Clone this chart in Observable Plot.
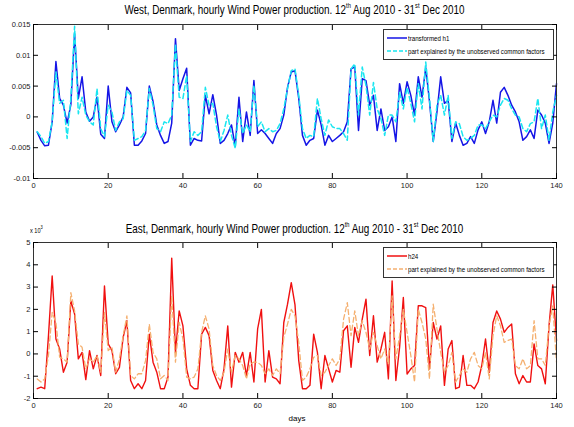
<!DOCTYPE html>
<html><head><meta charset="utf-8">
<script src="https://cdn.jsdelivr.net/npm/d3@7"></script>
<script src="https://cdn.jsdelivr.net/npm/@observablehq/plot@0.6"></script>
<style>
body{margin:0;background:#fff;}
#wrap{position:relative;width:574px;height:427px;font-family:"Liberation Sans",Arial,sans-serif;color:#000;overflow:hidden}
.svgbox{position:absolute;left:0}
.title{position:absolute;left:33px;width:523px;text-align:center;font-size:13px;white-space:nowrap;line-height:14px;transform:scaleX(0.76);transform-origin:center}
.title sup{font-size:7.5px;vertical-align:6px;line-height:0}
.legend{position:absolute;left:383px;width:169px;height:29px;border:1px solid #333;background:#fff;font-size:8px}
.legend .row{position:absolute;left:3px;height:10px;display:flex;align-items:center;white-space:nowrap}
.legend svg{margin-right:1px;flex:none}
.legend span{display:inline-block;transform:scaleX(0.77);transform-origin:left center}
.exp{position:absolute;left:30px;top:227px;font-size:7px;transform:scaleX(0.8);transform-origin:left}
.exp sup{font-size:5px;vertical-align:4px;line-height:0}
</style>
</head><body>
<div id="wrap"></div>
<script>
// ---- data ----
const days = d3.range(1, 141);
const xTicks = [0, 20, 40, 60, 80, 100, 120, 140];
const westTicks = [-0.01, -0.005, 0, 0.005, 0.01, 0.015];
const eastTicks = [-2, -1, 0, 1, 2, 3, 4, 5];
const westLabels = ["transformed h1", "part explained by the unobserved common factors"];
const eastLabels = ["h24", "part explained by the unobserved common factors"];

const westH1 = [-0.0025,-0.0038,-0.0047,-0.0046,-0.0008,0.009,0.003,0.0019,-0.001,0.002,
0.0135,0.003,0.0065,0.0008,-0.0007,0,0.0032,-0.0028,-0.0035,0.005,
-0.0008,-0.0024,-0.0013,0,0.0048,0.0039,-0.0046,-0.0046,-0.0039,-0.0027,
0.005,0.0025,-0.0013,-0.003,-0.0043,-0.004,-0.001,0.0127,0.0043,0.0062,
0.0079,-0.0046,-0.0035,-0.0038,-0.0039,0.0035,0.0005,0.0036,0.0003,-0.0043,
-0.0038,-0.0027,-0.0013,-0.0048,0.0032,-0.004,0.0008,-0.003,0.0059,-0.0027,
-0.0021,-0.0027,-0.0035,-0.0043,-0.0027,-0.0019,0.0003,0.0048,0.0073,0.0075,
0.003,-0.003,-0.0046,-0.0038,-0.0035,0.0011,-0.0013,-0.0046,-0.003,-0.004,
-0.0035,-0.003,-0.0024,-0.0008,0.0078,0.0081,-0.0022,0.0062,0.0059,0.0019,
0.0035,-0.0022,0.0013,-0.0022,-0.0016,0,-0.004,0.0054,0.0022,0.0057,
0.0035,0.0003,0.0065,0.0032,0.008,0.0025,-0.004,0.0008,0.0065,0.0022,
0.0027,-0.004,-0.001,-0.003,-0.0046,-0.0043,-0.0032,-0.0043,-0.0021,-0.0008,
-0.0027,-0.0008,0.0027,-0.001,0.004,0.0048,0.0035,0.0019,0.0008,-0.0008,
-0.0038,-0.0032,-0.0021,-0.0035,0.0011,0.0003,-0.001,-0.0043,-0.001,0.0054];

const westCommon = [-0.0024,-0.0032,-0.0043,-0.004,-0.0008,0.0073,0.0022,0.0027,-0.0035,0.003,
0.0147,0.0005,0.0032,0.0003,-0.0008,-0.0013,0.0046,-0.0019,-0.0032,0.0019,
0.0008,-0.0022,-0.0008,-0.0003,0.0043,0.0035,-0.0038,-0.0035,-0.0032,-0.0022,
0.0046,0.0019,-0.0019,-0.0024,-0.0008,-0.0011,0.0003,0.0118,0.0032,0.003,
0.0067,-0.004,-0.0024,-0.003,-0.0024,0.0048,0.0019,0.0022,-0.0016,-0.004,
-0.0022,0.0003,-0.003,-0.0051,0.0013,-0.0027,-0.0013,-0.0024,0.0051,-0.0016,
-0.0008,-0.0024,-0.0019,-0.0024,-0.0022,-0.0011,0.0013,0.0046,0.0075,0.0078,
0.0035,-0.0019,-0.0035,-0.003,-0.0032,0.003,-0.0003,-0.003,-0.0005,-0.0016,
-0.0019,-0.0019,-0.0027,-0.0038,0.0078,0.0086,0.0003,0.0081,0.0051,0.0003,
0.0056,0.0013,-0.0003,-0.003,0.0003,0.0003,-0.0008,0.004,0.0013,0.0048,
0.0022,-0.0008,0.0054,0.0013,0.0089,0.003,-0.004,0.0019,0.0035,0.0003,
0.0035,-0.0035,-0.0008,-0.0011,-0.0032,-0.0038,-0.0035,-0.003,-0.0013,-0.0013,
-0.0019,-0.0008,0.0003,0,0.0019,0.003,0.0027,0.0013,0.0003,0,
-0.0019,-0.0024,-0.0011,-0.0008,0.003,-0.0019,0.0003,-0.0038,0.0008,0.0035];

const eastH24 = [-1.56,-1.49,-1.56,0.8,3.5,0.67,0.22,-0.82,-0.37,2.38,
1.79,-0.22,0.07,-1.15,0.15,-0.67,-0.07,-0.97,3.05,0.45,
0.15,-0.89,-0.6,0.74,1.49,-1.19,-1.56,-1.34,-1.56,-1.19,
0.89,-0.37,-0.82,-1.56,-1.56,-1.04,4.3,0.07,1.93,1.26,
-0.67,-1.41,-1.56,-1.56,0.89,1.19,0.82,-0.74,-1.19,-1.56,
-0.67,1.26,-1.49,0.07,-0.37,0.07,-0.97,0.07,-1.26,1.12,
2.0,-1.26,0.15,-1.04,-1.12,-1.34,1.41,2.23,3.2,2.2,
-0.3,-1.56,-1.56,-1.41,0.89,0.07,-1.56,-0.07,-0.67,-1.26,
-0.74,-0.82,1.04,1.26,-0.6,1.19,0.52,1.56,2.46,-0.07,
1.71,-0.37,0.22,0.97,-1.12,3.27,-1.19,0.3,2.53,-0.9,
-0.67,-0.52,2.16,2.16,2.08,-0.67,1.41,0.67,1.26,-1.41,
0.22,0.6,-1.56,-1.49,-0.07,-1.41,-1.41,-1.56,-1.26,-0.52,
0.67,-0.82,1.41,1.93,1.56,0.97,1.19,1.34,-0.89,-1.34,
-0.97,-1.26,-1.26,0.45,-0.52,-0.67,-1.34,1.26,3.1,0.6];

const eastCommon = [-1.12,-1.26,-1.12,-0.07,1.86,1.41,-0.15,-0.22,-0.37,2.75,
1.93,0.45,0.3,-0.67,-0.22,-0.37,-0.07,-0.82,1.86,0.15,
0.3,-0.82,-0.22,0.82,1.71,-0.97,-1.12,-0.89,-0.89,-0.3,
1.34,0.07,-0.22,-1.12,-0.97,-1.19,2.6,-0.37,1.41,0.67,
-1.04,-1.12,-1.04,-0.67,0.97,1.71,1.12,-0.52,-0.97,-1.19,
-0.82,0.22,-0.82,-0.07,-0.22,-0.52,-1.12,-0.45,-0.37,-0.37,
-0.52,-0.89,-0.67,-0.97,-0.67,-0.89,0.74,1.34,2.0,1.71,
0.52,-1.19,-1.04,-0.67,-0.15,-0.07,-0.97,-0.82,-0.52,-0.22,
-0.52,-0.22,1.56,2.3,0.82,1.93,0.82,1.49,0.97,0.22,
0.97,0.37,-0.22,0.22,-0.45,2.6,-0.22,0.82,2.0,0.97,
-0.07,-1.26,2.0,1.41,0.67,-1.12,2.23,1.12,0.07,-0.82,
-0.52,0.07,-1.26,-0.97,-0.67,-0.82,-0.22,0.07,-0.52,-0.67,
0.07,-1.12,0.82,1.71,1.26,0.52,0.6,0.67,-0.52,-0.67,
-0.22,-0.67,-0.52,1.49,-0.22,-0.22,-0.52,1.26,2.16,-0.37];

// ---- drawing ----
const FONT = '"Liberation Sans",Arial,sans-serif';
const wrap = document.getElementById("wrap");

function panel({height, mt, mb, yDomain, yTicks, yFmt, s1, s2, c1, c2, w1, w2, dash2}) {
  const t1 = days.map((d, i) => ({day: d, v: s1[i]}));
  const t2 = days.map((d, i) => ({day: d, v: s2[i]}));
  return Plot.plot({
    width: 574, height, marginLeft: 33, marginRight: 18, marginTop: mt, marginBottom: mb,
    style: {fontFamily: FONT, fontSize: "7.5px", background: "white", color: "#000"},
    x: {domain: [0, 140]},
    y: {domain: yDomain},
    marks: [
      Plot.lineY(t1, {x: "day", y: "v", stroke: c1, strokeWidth: w1}),
      Plot.lineY(t2, {x: "day", y: "v", stroke: c2, strokeWidth: w2, strokeDasharray: dash2}),
      Plot.frame({stroke: "#333", strokeWidth: 1}),
      Plot.axisX(xTicks, {anchor: "bottom", tickSize: 0, tickPadding: 4, label: null, fill: "#222"}),
      Plot.axisX(xTicks, {anchor: "bottom", tickSize: 5, dy: -5, tickFormat: () => "", label: null}),
      Plot.axisX(xTicks, {anchor: "top", tickSize: 5, dy: 5, tickFormat: () => "", label: null}),
      Plot.axisY(yTicks, {anchor: "left", tickSize: 0, tickPadding: 3, tickFormat: yFmt, label: null, fill: "#222"}),
      Plot.axisY(yTicks, {anchor: "left", tickSize: 5, dx: 5, tickFormat: () => "", label: null}),
      Plot.axisY(yTicks, {anchor: "right", tickSize: 5, dx: -5, tickFormat: () => "", label: null})
    ]
  });
}

function place(el, top) {
  const box = document.createElement("div");
  box.className = "svgbox";
  box.style.top = top + "px";
  box.appendChild(el);
  wrap.appendChild(box);
}

place(panel({height: 200, mt: 24, mb: 22, yDomain: [-0.01, 0.015], yTicks: westTicks,
  yFmt: d => String(+d.toFixed(3)), s1: westH1, s2: westCommon,
  c1: "#1515e6", c2: "#19e6f0", w1: 1.5, w2: 1.5, dash2: "5,3"}), 0);

place(panel({height: 227, mt: 42, mb: 29, yDomain: [-2, 5], yTicks: eastTicks,
  yFmt: d => String(d), s1: eastH24, s2: eastCommon,
  c1: "#f01010", c2: "#f5b070", w1: 1.4, w2: 1.3, dash2: "5,3"}), 200);

function addHTML(html) { wrap.insertAdjacentHTML("beforeend", html); }

addHTML(`<div class="title" style="top:3px">West, Denmark, hourly Wind Power production. 12<sup>th</sup> Aug 2010 - 31<sup>st</sup> Dec 2010</div>`);
addHTML(`<div class="title" style="top:222px">East, Denmark, hourly Wind Power production. 12<sup>th</sup> Aug 2010 - 31<sup>st</sup> Dec 2010</div>`);
addHTML(`<div class="exp">x 10<sup>3</sup></div>`);
addHTML(`<div style="position:absolute;left:0;width:574px;top:414px;text-align:center;font-size:8px;padding-left:20px;box-sizing:border-box">days</div>`);

function legend(top, labels, c1, c2, dash2) {
  const sample = (c, dash) => `<svg width="20" height="4"><line x1="0" x2="20" y1="2" y2="2" stroke="${c}" stroke-width="1.5" ${dash ? `stroke-dasharray="${dash}"` : ""}/></svg>`;
  addHTML(`<div class="legend" style="top:${top}px">
    <div class="row" style="top:3px">${sample(c1)}<span>${labels[0]}</span></div>
    <div class="row" style="top:16px">${sample(c2, dash2)}<span>${labels[1]}</span></div>
  </div>`);
}
legend(29, westLabels, "#1515e6", "#19e6f0", "4,2");
legend(247, eastLabels, "#f01010", "#f5b070", "4,2");
</script>
</body></html>
